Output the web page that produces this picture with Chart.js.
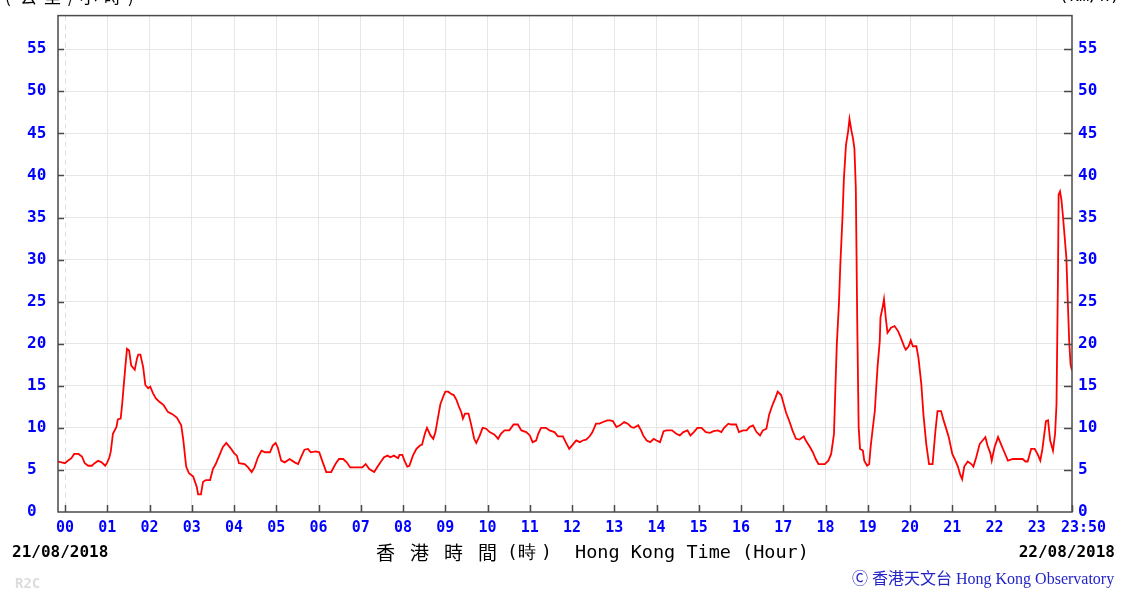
<!DOCTYPE html>
<html>
<head>
<meta charset="utf-8">
<script src="https://cdn.jsdelivr.net/npm/chart.js@4.4.1/dist/chart.umd.min.js"></script>
<style>
html,body{margin:0;padding:0;background:#fff;}
#wrap{width:1126px;height:594px;position:relative;}
</style>
</head>
<body>
<div id="wrap"><canvas id="grafVento"></canvas></div>
<script>
// minutos desde 00:00 de 21/08/2018
var minutos = [
  -10,-5,0,4,9,13,19,24,28,33,38,42,47,52,57,60,63,65,68,73,75,79,81,83,86,88,91,94,99,102,104,107,111,114,118,121,125,129,134,140,146,153,159,165,168,172,176,
  182,187,189,193,196,200,206,210,214,219,224,229,235,240,244,247,255,260,265,269,274,279,284,291,295,299,302,307,312,319,326,331,335,340,345,349,356,361,366,371,378,384,389,395,400,405,413,422,427,432,439,443,448,453,458,462,467,
  473,475,479,482,486,489,494,499,504,507,511,514,519,523,526,530,533,537,540,544,549,552,556,559,563,565,568,573,577,581,584,589,593,598,603,610,615,619,624,631,637,643,648,655,660,664,669,672,676,683,688,695,700,707,711,716,721,726,731,735,740,745,749,754,759,
  764,770,774,778,783,788,794,799,804,808,814,818,821,826,831,836,840,845,850,854,862,868,873,878,884,888,893,898,904,910,916,921,927,932,936,942,946,953,957,963,968,972,977,982,987,991,996,1000,1005,1009,1012,1017,1020,1024,1029,1033,1038,1043,1049,1052,1058,1062,1066,1070,
  1079,1084,1088,1092,1094,1096,1099,1101,1104,1106,1109,1112,1114,1117,1119,1121,1123,1125,1127,1129,1133,1135,1139,1142,1144,1147,1150,1152,1154,1157,1158,1161,1163,1166,1168,1173,1178,1183,1187,1192,1194,1198,1201,1204,1209,1212,1216,1219,1223,1227,1232,1236,1239,1244,1248,1251,1255,1260,1264,1268,1271,1274,1277,1282,1287,1290,1294,1299,1303,1307,1310,1314,1316,1320,1325,1329,1334,1339,1346,1360,1364,1367,1372,1377,1381,1385,1388,1393,1396,1399,1403,1406,1408,1410,1411,1413,1415,1417,1419,1422,1424,1426,1428,1430
];
// velocidade do vento (km/h)
var velocidade = [
  6.0,5.9,5.8,6.1,6.4,6.9,6.9,6.6,5.8,5.5,5.5,5.8,6.1,5.9,5.5,5.9,6.5,7.2,9.3,10.1,11.0,11.1,12.7,14.7,17.6,19.4,19.2,17.4,16.9,18.2,18.7,18.7,17.2,15.1,14.7,14.9,14.1,13.5,13.1,12.7,11.9,11.6,11.2,10.3,8.5,5.4,4.6,
  4.2,3.0,2.1,2.1,3.6,3.8,3.8,5.1,5.7,6.7,7.7,8.2,7.6,7.0,6.7,5.8,5.7,5.3,4.75,5.3,6.5,7.3,7.1,7.1,7.9,8.2,7.7,6.1,5.9,6.3,5.9,5.7,6.5,7.4,7.5,7.1,7.2,7.1,5.9,4.75,4.75,5.7,6.3,6.3,5.9,5.3,5.3,5.3,5.7,5.1,4.75,5.3,5.9,6.5,6.7,6.5,6.7,
  6.4,6.8,6.8,6.1,5.4,5.5,6.7,7.5,7.9,8.0,9.3,10.0,9.1,8.7,9.5,11.4,12.8,13.7,14.3,14.3,14.0,13.9,13.3,12.6,11.8,11.1,11.7,11.7,10.3,8.7,8.2,9.1,10.0,9.9,9.5,9.2,8.7,9.3,9.7,9.7,10.4,10.4,9.7,9.5,9.1,8.3,8.5,9.3,10.0,10.0,9.7,9.5,9.0,9.0,8.3,7.5,8.0,8.5,8.3,8.5,8.6,9.0,9.5,10.5,10.5,
  10.7,10.9,10.9,10.8,10.1,10.3,10.7,10.5,10.1,10.0,10.3,9.7,9.1,8.5,8.3,8.7,8.5,8.3,9.6,9.7,9.7,9.3,9.1,9.5,9.7,9.1,9.5,10.0,10.0,9.5,9.4,9.6,9.7,9.5,10.0,10.5,10.4,10.4,9.5,9.7,9.7,10.1,10.3,9.5,9.1,9.7,9.9,11.6,12.8,13.6,14.3,13.9,13.0,11.8,10.7,9.7,8.7,8.6,9.0,8.5,7.7,7.1,6.3,5.7,
  5.7,6.1,6.9,9.3,14.8,19.9,24.7,29.4,34.9,39.5,43.6,45.2,46.7,45.2,44.4,43.2,38.5,22.7,10.1,7.5,7.3,6.1,5.5,5.7,7.7,9.9,12.0,14.8,17.4,20.3,23.1,24.3,25.3,22.7,21.3,21.9,22.1,21.5,20.7,19.6,19.3,19.7,20.4,19.7,19.7,18.3,15.2,11.6,8.1,5.7,5.7,9.6,12.0,12.0,10.8,10.0,8.9,6.9,6.2,5.4,4.5,3.9,5.4,6.0,5.7,5.4,6.5,8.1,8.5,8.9,7.9,7.0,6.1,7.7,8.9,8.1,7.1,6.1,6.3,6.3,6.0,6.0,7.5,7.5,6.9,6.1,7.5,10.8,10.9,8.5,7.3,9.3,12.8,27.4,37.7,38.1,37.1,35.3,33.3,30.2,25.1,20.3,17.5,16.8
];
var horasTicks = [0,60,120,180,240,300,360,420,480,540,600,660,720,780,840,900,960,1020,1080,1140,1200,1260,1320,1380,1430];
var horasLabels = ['00','01','02','03','04','05','06','07','08','09','10','11','12','13','14','15','16','17','18','19','20','21','22','23','23:50'];
var yTicks = [0,5,10,15,20,25,30,35,40,45,50,55];

var pontos = [];
for(let i=0;i<minutos.length;i++){
    pontos.push({x:minutos[i], y:velocidade[i]});
}

const corAzul = '#0000ff';
const fonteMono = '"DejaVu Sans Mono", "Liberation Mono", monospace';
const fonteCJK = '"Noto Sans CJK TC", "Noto Sans CJK SC", sans-serif';

// escreve caracteres um a um com passo fixo
function textoEspacado(ctx, chars, xs, y){
    for(let i=0;i<chars.length;i++){
        ctx.fillText(chars[i], xs[i], y);
    }
}

// desenha moldura, marcas internas e textos
const moldura = {
    id:'moldura',
    beforeDraw(chart){
        const ctx = chart.ctx;
        ctx.save();
        ctx.fillStyle = '#fff';
        ctx.fillRect(0,0,chart.width,chart.height);
        ctx.restore();
    },
    beforeDatasetsDraw(chart){
        const ctx = chart.ctx, a = chart.chartArea, sx = chart.scales.x;
        const x0 = Math.round(sx.getPixelForValue(0))+0.5;
        ctx.save();
        ctx.strokeStyle = '#dedede';
        ctx.lineWidth = 1;
        ctx.setLineDash([5,4]);
        ctx.beginPath();
        ctx.moveTo(x0,a.top);
        ctx.lineTo(x0,a.bottom);
        ctx.stroke();
        ctx.restore();
    },
    afterDatasetsDraw(chart){
        const ctx = chart.ctx, a = chart.chartArea;
        const sx = chart.scales.x, sy = chart.scales.y;
        ctx.save();
        ctx.strokeStyle = '#4a4a4a';
        ctx.lineWidth = 1.5;
        ctx.strokeRect(a.left, a.top, a.right-a.left, a.bottom-a.top);
        ctx.beginPath();
        yTicks.forEach(v=>{
            if(v==0) return;
            const y = Math.round(sy.getPixelForValue(v))+0.5;
            ctx.moveTo(a.left,y); ctx.lineTo(a.left+6,y);
            ctx.moveTo(a.right,y); ctx.lineTo(a.right-8,y);
        });
        horasTicks.forEach(v=>{
            const x = Math.round(sx.getPixelForValue(v))+0.5;
            ctx.moveTo(x,a.bottom); ctx.lineTo(x,a.bottom-7);
        });
        ctx.stroke();
        ctx.restore();
    },
    afterDraw(chart){
        const ctx = chart.ctx, a = chart.chartArea, sx = chart.scales.x;
        ctx.save();
        ctx.textBaseline = 'middle';

        // ultimo rotulo do eixo x
        ctx.fillStyle = corAzul;
        ctx.font = 'bold 15px '+fonteMono;
        ctx.textAlign = 'left';
        ctx.fillText(horasLabels[horasLabels.length-1], sx.getPixelForValue(1430)-11, a.bottom+16);

        // unidades (cortadas no topo)
        ctx.fillStyle = '#000';
        ctx.font = '17px '+fonteCJK;
        textoEspacado(ctx, ['(','公','里','/','小','時',')'], [5,20,44,68,80,104,128], -3);
        ctx.textAlign = 'right';
        ctx.font = '17px '+fonteMono;
        ctx.fillText('(km/h)', 1120, -3);

        // datas
        ctx.font = 'bold 16px '+fonteMono;
        ctx.textAlign = 'left';
        ctx.fillText('21/08/2018', 12, 553);
        ctx.textAlign = 'right';
        ctx.fillText('22/08/2018', 1115, 553);

        // titulo do eixo
        ctx.textAlign = 'left';
        ctx.font = '19px '+fonteCJK;
        textoEspacado(ctx, ['香','港','時','間'], [376,410,444,478], 553);
        ctx.font = '18px '+fonteMono;
        textoEspacado(ctx, ['(','時',')'], [507,518,541], 553);
        ctx.font = '18.5px '+fonteMono;
        ctx.fillText('Hong Kong Time (Hour)', 575, 553);

        // credito
        ctx.fillStyle = '#2424c8';
        ctx.font = '16px "Liberation Serif", "Noto Sans CJK TC", serif';
        ctx.fillText('Ⓒ 香港天文台 Hong Kong Observatory', 852, 580);

        ctx.fillStyle = '#dcdcdc';
        ctx.font = 'bold 14px '+fonteMono;
        ctx.fillText('R2C', 15, 584);
        ctx.restore();
    }
};

const escalaY = (pos)=>({
    type:'linear',
    position:pos,
    min:0,
    max:59,
    afterBuildTicks: (s)=>{ s.ticks = yTicks.map(v=>({value:v})); },
    afterFit: (s)=>{ s.width = (pos=='left') ? 31 : 54; },
    border:{display:false},
    grid:{
        display: pos=='left',
        drawTicks:false,
        color: (c)=> (c.tick && c.tick.value==0) ? 'rgba(0,0,0,0)' : '#e6e6e6',
        lineWidth:1
    },
    ticks:{
        color:corAzul,
        font:{family:fonteMono, size:16, weight:'bold'},
        padding:6,
        crossAlign: pos=='left' ? 'far' : 'near'
    }
});

new Chart(document.getElementById('grafVento'), {
    type:'line',
    data:{
        datasets:[{
            label:'Vento',
            data:pontos,
            borderColor:'#ff0000',
            backgroundColor:'transparent',
            borderWidth:1.8,
            pointRadius:0,
            tension:0,
            yAxisID:'y'
        }]
    },
    options:{
        responsive:true,
        maintainAspectRatio:false,
        devicePixelRatio:1,
        animation:false,
        layout:{padding:{left:27, right:0, top:13, bottom:0}},
        plugins:{legend:{display:false}, tooltip:{enabled:false}},
        scales:{
            x:{
                type:'linear',
                min:-10,
                max:1430,
                afterBuildTicks: (s)=>{ s.ticks = horasTicks.map(v=>({value:v})); },
                afterFit: (s)=>{ s.height = 82; },
                border:{display:false},
                grid:{
                    drawTicks:false,
                    color: (c)=> (c.tick && (c.tick.value==0 || c.tick.value==1430)) ? 'rgba(0,0,0,0)' : '#e6e6e6',
                    lineWidth:1
                },
                ticks:{
                    autoSkip:false,
                    maxRotation:0,
                    padding:7,
                    color:corAzul,
                    font:{family:fonteMono, size:15, weight:'bold'},
                    callback: function(v){
                        const i = horasTicks.indexOf(v);
                        return (i>=0 && v!=1430) ? horasLabels[i] : '';
                    }
                }
            },
            y:escalaY('left'),
            y2:escalaY('right')
        }
    },
    plugins:[moldura]
});
</script>
</body>
</html>
